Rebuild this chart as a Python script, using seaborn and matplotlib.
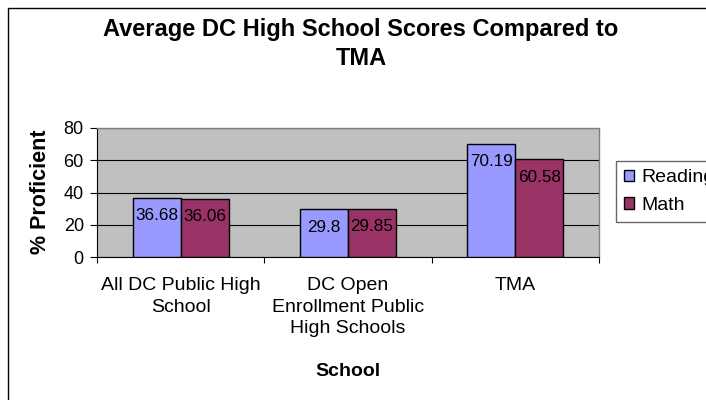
import matplotlib
matplotlib.use("Agg")
import matplotlib.pyplot as plt
from matplotlib.patches import Rectangle, Patch
import seaborn as sns
import pandas as pd

categories = ["All DC Public High\nSchool",
              "DC Open\nEnrollment Public\nHigh Schools",
              "TMA"]
series_names = ["Reading", "Math"]
reading = [36.68, 29.8, 70.19]
math_scores = [36.06, 29.85, 60.58]
colors = ["#9999FF", "#993366"]
yticks = [0, 20, 40, 60, 80]

plt.rcParams['font.family'] = ['Liberation Sans', 'DejaVu Sans']

df = pd.DataFrame({
    "School": categories * 2,
    "Score": reading + math_scores,
    "Subject": [series_names[0]] * 3 + [series_names[1]] * 3,
})

W, H = 706, 400
fig = plt.figure(figsize=(W / 100, H / 100), dpi=100)
ax = fig.add_axes([97 / W, 1 - 257 / H, (599 - 97) / W, (257 - 128) / H])
ax.set_facecolor("#C0C0C0")

sns.barplot(data=df, x="School", y="Score", hue="Subject", order=categories,
            hue_order=series_names, palette=colors, saturation=1,
            width=0.574, gap=0, edgecolor="black", linewidth=1,
            errorbar=None, legend=False, ax=ax, zorder=3)

for cont, vals in zip(ax.containers, [reading, math_scores]):
    for patch, v in zip(cont.patches, vals):
        ax.annotate(f"{v:g}", (patch.get_x() + patch.get_width() / 2, patch.get_height()),
                    xytext=(0, -13), textcoords="offset points",
                    ha="center", va="center", fontsize=12.3, color="black", zorder=5)

ax.set_ylim(0, 80)
ax.set_yticks(yticks)
ax.set_yticklabels([str(t) for t in yticks])
ax.set_xlim(-0.5, 2.5)
ax.set_xticks([-0.5, 0.5, 1.5, 2.5], minor=True)
ax.tick_params(axis="x", which="major", length=0, pad=14.5, labelsize=14)
ax.tick_params(axis="x", which="minor", length=4.5, width=0.8, color="black", direction="out")
ax.tick_params(axis="y", which="major", length=5, width=0.8, pad=4.5, labelsize=13, direction="out")
for lbl in ax.get_xticklabels():
    lbl.set_multialignment("center")
    lbl.set_linespacing(1.34)

ax.yaxis.grid(True, color="black", linewidth=0.8, zorder=1)
ax.set_axisbelow(True)
ax.set_xlabel("")
ax.set_ylabel("")
for s in ["top", "right"]:
    ax.spines[s].set_color("#808080")
    ax.spines[s].set_linewidth(1)
for s in ["left", "bottom"]:
    ax.spines[s].set_color("black")
    ax.spines[s].set_linewidth(0.8)

fig.text(361 / W, 1 - 36 / H, "Average DC High School Scores Compared to",
         ha="center", va="baseline", fontsize=17, fontweight="bold")
fig.text(361 / W, 1 - 65 / H, "TMA",
         ha="center", va="baseline", fontsize=17, fontweight="bold")
fig.text(40 / W, 1 - 192 / H, "% Proficient", rotation=90,
         ha="center", va="center", fontsize=15.5, fontweight="bold")
fig.text(348 / W, 1 - 376 / H, "School",
         ha="center", va="baseline", fontsize=14, fontweight="bold")

handles = [Patch(facecolor=c, edgecolor="black", linewidth=1) for c in colors]
leg = fig.legend(handles, series_names, loc="upper left",
                 bbox_to_anchor=(616 / W, 1 - 161 / H), borderaxespad=0,
                 fontsize=14, frameon=True, fancybox=False,
                 handlelength=0.5, handleheight=0.5, handletextpad=0.4,
                 labelspacing=0.55, borderpad=0.42)
leg.get_frame().set_edgecolor("#404040")
leg.get_frame().set_linewidth(1)

fig.add_artist(Rectangle((7.5 / W, -0.1), 1.2, 1 - 8 / H + 0.1,
                         transform=fig.transFigure, fill=False,
                         edgecolor="black", linewidth=1))

fig.savefig("out.png", dpi=100, facecolor="white")
